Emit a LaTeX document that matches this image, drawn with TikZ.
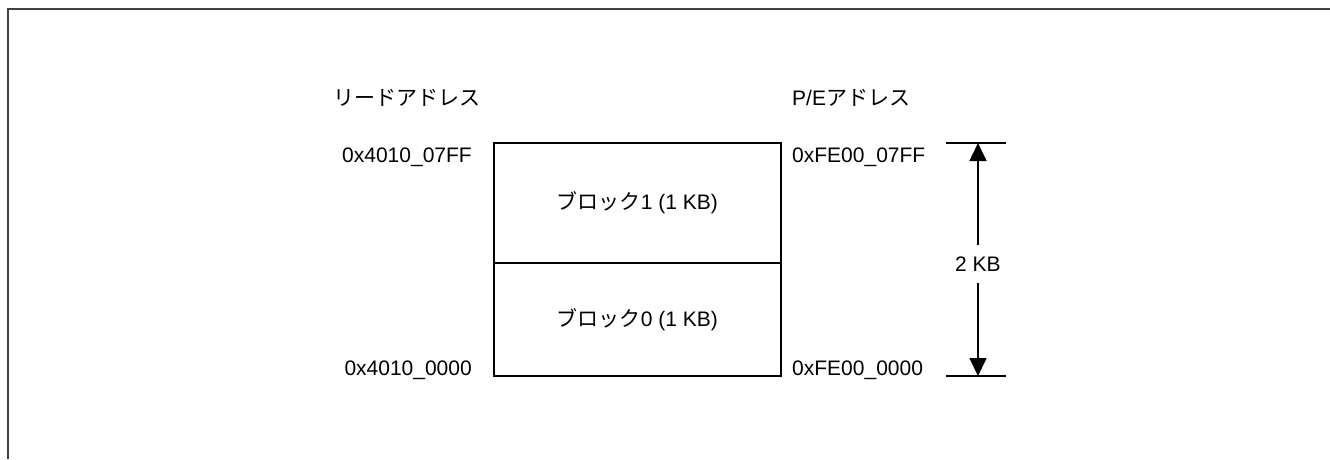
\documentclass[tikz,border=0pt]{standalone}
\usepackage{fontspec}
\setmainfont{Liberation Sans}
\newfontfamily\jp{Noto Sans CJK JP}
\usetikzlibrary{arrows.meta}
\begin{document}
\begin{tikzpicture}[x=1pt,y=-1pt,
  every node/.style={font=\fontsize{21}{25}\selectfont, inner sep=0pt},
  blockbox/.style={draw, line width=1.6pt, minimum width=287pt, anchor=north west},
  bar/.style={line width=1.6pt},
  dimarrow/.style={line width=1.6pt, -{Triangle[width=17pt,length=18pt]}},
  frameline/.style={line width=2.2pt, draw=black!75}]
\useasboundingbox (0,0) rectangle (1330,459);
\draw[frameline] (8,459) -- (8,9) -- (1330,9);
% blocks
\node[blockbox, minimum height=120pt] (b1) at (493,142) {};
\node[blockbox, minimum height=113pt] (b0) at (493,262) {};
\node (t1) at (b1.center) {{\jp ブロック}1 (1 KB)};
\node (t0) at (b0.center) {{\jp ブロック}0 (1 KB)};
% headers
\node[anchor=west] (hr) at (333,98) {\jp リードアドレス};
\node[anchor=west] (hp) at (792,98) {P/E{\jp アドレス}};
% addresses
\node[anchor=base east] (ra1) at (472,162) {0x4010\_07FF};
\node[anchor=base east] (ra0) at (472,375) {0x4010\_0000};
\node[anchor=base west] (pa1) at (792,162) {0xFE00\_07FF};
\node[anchor=base west] (pa0) at (792,375) {0xFE00\_0000};
% dimension
\coordinate (tl) at (946,143);
\coordinate (tr) at (1006,143);
\coordinate (tm) at (978,143);
\coordinate (bl) at (946,376);
\coordinate (br) at (1006,376);
\coordinate (bm) at (978,376);
\draw[bar] (tl) -- (tr);
\draw[bar] (bl) -- (br);
\node[minimum height=37pt] (kb) at (978,264) {2 KB};
\draw[dimarrow] (kb.north) -- (tm);
\draw[dimarrow] (kb.south) -- (bm);
\end{tikzpicture}
\end{document}
